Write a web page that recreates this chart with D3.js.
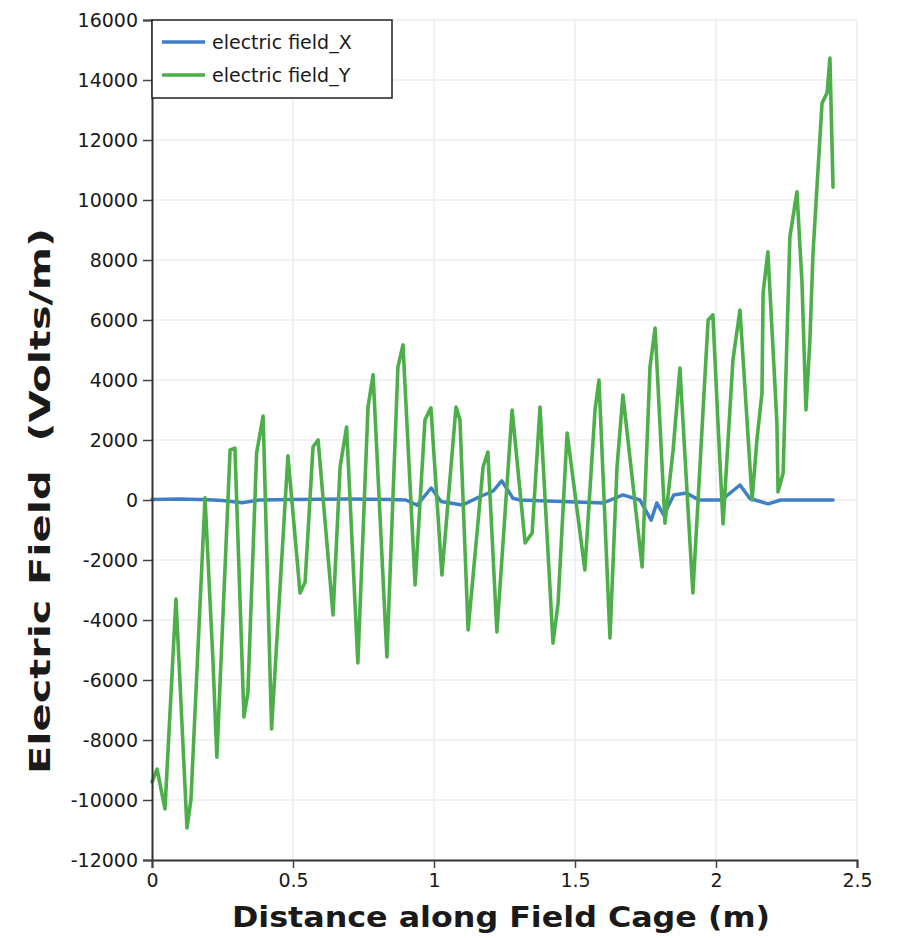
<!DOCTYPE html>
<html>
<head>
<meta charset="utf-8">
<script src="https://cdn.jsdelivr.net/npm/d3@7"></script>
<style>
  html, body { margin: 0; padding: 0; background: #fff; }
  svg { display: block; }
  text { font-family: "DejaVu Sans", sans-serif; fill: #1a1a1a; }
</style>
</head>
<body>
<svg id="chart" width="897" height="938"></svg>
<script>
// ---- Data ----
const seriesNames = ["electric field_X", "electric field_Y"];
const xTicks = [0, 0.5, 1, 1.5, 2, 2.5];
const xTickLabels = ["0", "0.5", "1", "1.5", "2", "2.5"];
const yTicks = [-12000, -10000, -8000, -6000, -4000, -2000, 0, 2000, 4000, 6000, 8000, 10000, 12000, 14000, 16000];
const yTickLabels = ["-12000", "-10000", "-8000", "-6000", "-4000", "-2000", "0", "2000", "4000", "6000", "8000", "10000", "12000", "14000", "16000"];

const fieldY_x = [0, 0.018, 0.046, 0.085, 0.124, 0.138, 0.188, 0.216, 0.230, 0.277, 0.294, 0.326, 0.340, 0.371, 0.394, 0.424, 0.482, 0.525, 0.543, 0.571, 0.589, 0.642, 0.667, 0.690, 0.730, 0.766, 0.784, 0.833, 0.872, 0.890, 0.933, 0.968, 0.989, 1.028, 1.078, 1.092, 1.121, 1.174, 1.191, 1.223, 1.277, 1.323, 1.348, 1.376, 1.422, 1.440, 1.472, 1.535, 1.571, 1.585, 1.624, 1.649, 1.670, 1.738, 1.766, 1.784, 1.819, 1.848, 1.872, 1.918, 1.972, 1.989, 2.007, 2.025, 2.060, 2.085, 2.128, 2.145, 2.163, 2.167, 2.184, 2.216, 2.220, 2.238, 2.262, 2.287, 2.305, 2.319, 2.333, 2.344, 2.376, 2.394, 2.404, 2.415];
const fieldY_v = [-9400, -8970, -10300, -3300, -10930, -10000, 70, -5330, -8570, 1670, 1730, -7230, -6430, 1570, 2800, -7630, 1470, -3100, -2730, 1770, 2000, -3830, 1100, 2430, -5430, 3100, 4170, -5230, 4430, 5170, -2830, 2670, 3070, -2500, 3100, 2670, -4330, 1100, 1600, -4400, 3000, -1430, -1100, 3100, -4770, -3430, 2230, -2330, 3000, 4000, -4600, 1100, 3500, -2230, 4430, 5730, -770, 1670, 4400, -3100, 6000, 6170, 2570, -800, 4670, 6330, 0, 2000, 3570, 6900, 8270, 2570, 270, 900, 8770, 10270, 7230, 3000, 5330, 8230, 13230, 13570, 14730, 10430];

const fieldX_x = [0, 0.1, 0.2, 0.25, 0.32, 0.38, 0.5, 0.7, 0.85, 0.9, 0.94, 0.99, 1.025, 1.1, 1.16, 1.21, 1.24, 1.28, 1.305, 1.6, 1.67, 1.73, 1.77, 1.79, 1.815, 1.85, 1.895, 1.94, 2.02, 2.085, 2.12, 2.185, 2.23, 2.415];
const fieldX_v = [20, 30, 10, -20, -90, 0, 20, 30, 20, 0, -170, 400, -50, -170, 100, 300, 640, 60, 0, -100, 170, 0, -670, -100, -500, 170, 230, 0, 0, 500, 50, -130, 0, 0];

// ---- Layout ----
const svg = d3.select("#chart");
const pLeft = 152, pRight = 857, pTop = 20, pBottom = 860;
const x = d3.scaleLinear().domain([0, 2.5]).range([pLeft, pRight]);
const y = d3.scaleLinear().domain([-12000, 16000]).range([pBottom, pTop]);

// gridlines
const grid = svg.append("g");
grid.selectAll("line.h").data(yTicks.filter(d => d !== -12000)).enter().append("line")
  .attr("x1", pLeft).attr("x2", pRight)
  .attr("y1", d => y(d)).attr("y2", d => y(d))
  .attr("stroke", "#ececec").attr("stroke-width", 1.5);
grid.selectAll("line.v").data(xTicks.filter(d => d !== 0)).enter().append("line")
  .attr("x1", d => x(d)).attr("x2", d => x(d))
  .attr("y1", pTop).attr("y2", pBottom)
  .attr("stroke", "#ececec").attr("stroke-width", 1.5);

// lines
const lineGen = (xs, vs) => d3.line().x((d, i) => x(xs[i])).y((d, i) => y(vs[i]))(vs);
svg.append("path").attr("d", lineGen(fieldX_x, fieldX_v))
  .attr("fill", "none").attr("stroke", "#3f7fc8").attr("stroke-width", 3.5)
  .attr("stroke-linejoin", "round").attr("stroke-linecap", "round");
svg.append("path").attr("d", lineGen(fieldY_x, fieldY_v))
  .attr("fill", "none").attr("stroke", "#4daf4a").attr("stroke-width", 3.6)
  .attr("stroke-linejoin", "round").attr("stroke-linecap", "round");

// axes
const yAxis = d3.axisLeft(y).tickValues(yTicks).tickFormat((d, i) => yTickLabels[i]).tickSize(9).tickPadding(5);
const gy = svg.append("g").attr("transform", `translate(${pLeft},0)`).call(yAxis);
const xAxis = d3.axisBottom(x).tickValues(xTicks).tickFormat((d, i) => xTickLabels[i]).tickSize(8).tickPadding(6);
const gx = svg.append("g").attr("transform", `translate(0,${pBottom})`).call(xAxis);
[gx, gy].forEach(g => {
  g.select(".domain").attr("stroke", "#333").attr("stroke-width", 2);
  g.selectAll(".tick line").attr("stroke", "#444").attr("stroke-width", 1.5);
  g.selectAll(".tick text").style("font-family", "DejaVu Sans, sans-serif").style("font-size", "19px").attr("fill", "#333");
});

// axis titles
svg.append("text").attr("x", 501).attr("y", 927).attr("text-anchor", "middle")
  .style("font-size", "29px").style("font-weight", "bold").attr("fill", "#000")
  .attr("textLength", 538).attr("lengthAdjust", "spacingAndGlyphs")
  .text("Distance along Field Cage (m)");
svg.append("text").attr("transform", "translate(50,501) rotate(-90)").attr("text-anchor", "middle")
  .style("font-size", "29px").style("font-weight", "bold").style("white-space", "pre").attr("fill", "#000")
  .attr("textLength", 546).attr("lengthAdjust", "spacingAndGlyphs")
  .text("Electric Field  (Volts/m)");

// legend
const lg = svg.append("g");
lg.append("rect").attr("x", pLeft).attr("y", pTop).attr("width", 240).attr("height", 78)
  .attr("fill", "#fff").attr("stroke", "#222").attr("stroke-width", 1.5);
const legColors = ["#3f7fc8", "#4daf4a"];
seriesNames.forEach((name, i) => {
  const cy = 42 + i * 33;
  lg.append("line").attr("x1", 162).attr("x2", 205).attr("y1", cy).attr("y2", cy)
    .attr("stroke", legColors[i]).attr("stroke-width", 3.5);
  lg.append("text").attr("x", 212).attr("y", cy + 7).style("font-size", "19px").attr("fill", "#1a1a1a")
    .text(name);
});
</script>
</body>
</html>
